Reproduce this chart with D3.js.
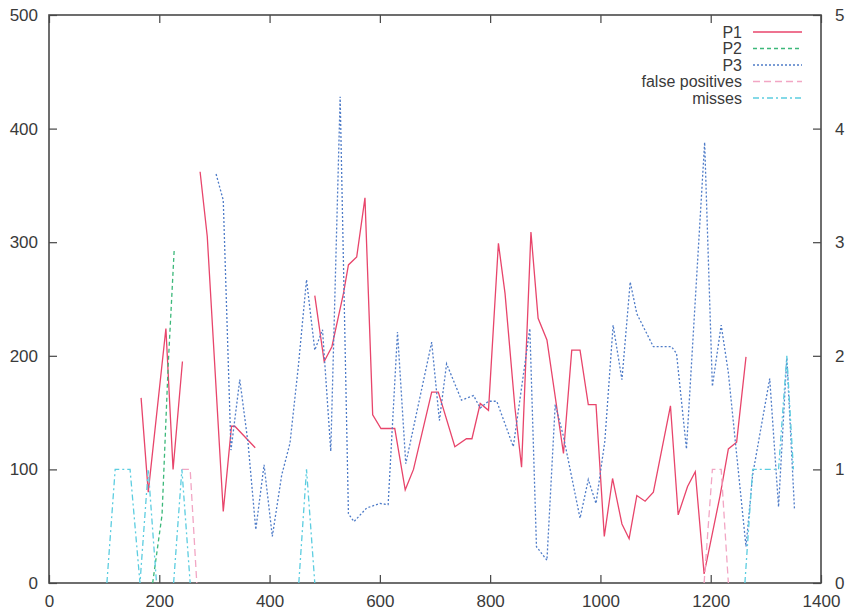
<!DOCTYPE html>
<html>
<head>
<meta charset="utf-8">
<script src="https://cdn.jsdelivr.net/npm/d3@7"></script>
<style>
  body { margin: 0; background: #fff; }
  text { font-family: "Liberation Sans", Arial, sans-serif; fill: #3a3a3a; }
</style>
</head>
<body>
<div id="chart"></div>
<script>
'use strict';
// data; null = gap in the line
var p1X = [167, 180, 212, 225, 242, 258, 274, 287, 316, 331, 337, 374, 430, 482, 499, 513, 534, 543, 558, 573, 587, 602, 627, 646, 661, 694, 706, 736, 757, 767, 782, 797, 815, 827, 845, 857, 874, 887, 903, 933, 948, 963, 978, 992, 1007, 1022, 1039, 1052, 1066, 1081, 1096, 1127, 1141, 1158, 1172, 1188, 1217, 1232, 1247, 1264];
var p1Y = [163, 80, 224, 100, 195, null, 362, 305, 63, 138, 138, 119, null, 253, 195, 208, 255, 280, 287, 339, 148, 136, 136, 82, 100, 168, 168, 120, 127, 127, 158, 152, 299, 255, 154, 102, 309, 233, 214, 114, 205, 205, 157, 157, 41, 92, 52, 39, 77, 72, 80, 156, 60, 85, 98, 8, 77, 118, 124, 199];

var p2X = [188, 205, 216, 227];
var p2Y = [0, 60, 190, 293];

var p3X = [303, 316, 330, 346, 361, 375, 390, 405, 422, 437, 452, 467, 482, 496, 511, 528, 543, 553, 576, 600, 615, 632, 647, 694, 708, 721, 748, 770, 782, 797, 812, 842, 872, 884, 903, 918, 933, 963, 978, 992, 1008, 1023, 1039, 1054, 1066, 1096, 1120, 1129, 1138, 1156, 1189, 1203, 1219, 1232, 1264, 1276, 1307, 1323, 1338, 1352];
var p3Y = [360, 337, 117, 179, 123, 47, 104, 41, 95, 123, 190, 267, 205, 223, 116, 428, 61, 54, 66, 70, 69, 221, 105, 212, 143, 193, 161, 165, 154, 160, 160, 120, 224, 32, 20, 157, 129, 57, 91, 70, 125, 227, 179, 265, 237, 208, 208, 208, 202, 118, 388, 173, 227, 185, 32, 95, 180, 67, 198, 64];

// false positives / misses are counts on the right-hand axis
var fpX = [241, 256, 268, 700, 1188, 1203, 1219, 1232];
var fpY = [1, 1, 0, null, 0, 1, 1, 0];

var missX = [105, 120, 147, 165, 180, 195, 210, 226, 241, 256, 300, 453, 467, 482, 600, 1262, 1276, 1292, 1307, 1323, 1338, 1350];
var missY = [0, 1, 1, 0, 1, 0, null, 0, 1, 0, null, 0, 1, 0, null, 0, 1, 1, 1, 1, 2, 1];

var xTicks = [0, 200, 400, 600, 800, 1000, 1200, 1400];
var yTicks = [0, 100, 200, 300, 400, 500];
var y2Ticks = [0, 1, 2, 3, 4, 5];

var W = 848, H = 612;
var plotLeft = 49, plotRight = 821, plotTop = 15, plotBottom = 583;

var svg = d3.select('#chart').append('svg')
    .attr('width', W)
    .attr('height', H);

var x = d3.scaleLinear().domain([0, 1400]).range([plotLeft, plotRight]);
var y = d3.scaleLinear().domain([0, 500]).range([plotBottom, plotTop]);
var y2 = d3.scaleLinear().domain([0, 5]).range([plotBottom, plotTop]);

function zip(xs, ys) {
  return xs.map(function(d, i) { return [d, ys[i]]; });
}

var series = [
  {name: 'P1', data: zip(p1X, p1Y), scale: y, color: '#e8456b', dash: null},
  {name: 'P2', data: zip(p2X, p2Y), scale: y, color: '#3cb87a', dash: '4,3'},
  {name: 'P3', data: zip(p3X, p3Y), scale: y, color: '#4f7cc8', dash: '2,2'},
  {name: 'false positives', data: zip(fpX, fpY), scale: y2, color: '#f2a6c4', dash: '7,4'},
  {name: 'misses', data: zip(missX, missY), scale: y2, color: '#5ccde0', dash: '6,3,2,3'}
];

var fmt = d3.format('d');

// axes, ticks pointing inward
svg.append('g')
    .attr('transform', 'translate(0,' + plotBottom + ')')
    .call(d3.axisBottom(x).tickValues(xTicks).tickFormat(fmt).tickSizeInner(-8).tickSizeOuter(0).tickPadding(12));
svg.append('g')
    .attr('transform', 'translate(0,' + plotTop + ')')
    .call(d3.axisTop(x).tickValues(xTicks).tickSizeInner(-8).tickSizeOuter(0).tickFormat(''));
svg.append('g')
    .attr('transform', 'translate(' + plotLeft + ',0)')
    .call(d3.axisLeft(y).tickValues(yTicks).tickFormat(fmt).tickSizeInner(-8).tickSizeOuter(0).tickPadding(11));
svg.append('g')
    .attr('transform', 'translate(' + plotRight + ',0)')
    .call(d3.axisRight(y2).tickValues(y2Ticks).tickFormat(fmt).tickSizeInner(-8).tickSizeOuter(0).tickPadding(14));

svg.selectAll('.domain').remove();
svg.selectAll('.tick line').attr('stroke', '#444').attr('stroke-width', 1.2);
svg.selectAll('.tick text')
    .style('font-size', '17px')
    .style('font-family', '"Liberation Sans", Arial, sans-serif')
    .attr('fill', '#3a3a3a');

// frame
svg.append('rect')
    .attr('x', plotLeft)
    .attr('y', plotTop)
    .attr('width', plotRight - plotLeft)
    .attr('height', plotBottom - plotTop)
    .attr('fill', 'none')
    .attr('stroke', '#4a4a4a')
    .attr('stroke-width', 1.6);

// lines
series.forEach(function(s) {
  var line = d3.line()
      .defined(function(d) { return d[1] !== null; })
      .x(function(d) { return x(d[0]); })
      .y(function(d) { return s.scale(d[1]); });
  svg.append('path')
      .datum(s.data)
      .attr('d', line)
      .attr('fill', 'none')
      .attr('stroke', s.color)
      .attr('stroke-width', 1.3)
      .attr('stroke-dasharray', s.dash);
});

// legend
var legend = svg.append('g').selectAll('g')
    .data(series)
  .enter().append('g')
    .attr('transform', function(d, i) { return 'translate(0,' + (32 + i * 16.5) + ')'; });
legend.append('text')
    .attr('x', 742)
    .attr('dy', '0.35em')
    .style('text-anchor', 'end')
    .style('font-size', '16px')
    .text(function(d) { return d.name; });
legend.append('line')
    .attr('x1', 753)
    .attr('x2', 802)
    .attr('stroke', function(d) { return d.color; })
    .attr('stroke-width', 1.3)
    .attr('stroke-dasharray', function(d) { return d.dash; });
</script>
</body>
</html>
